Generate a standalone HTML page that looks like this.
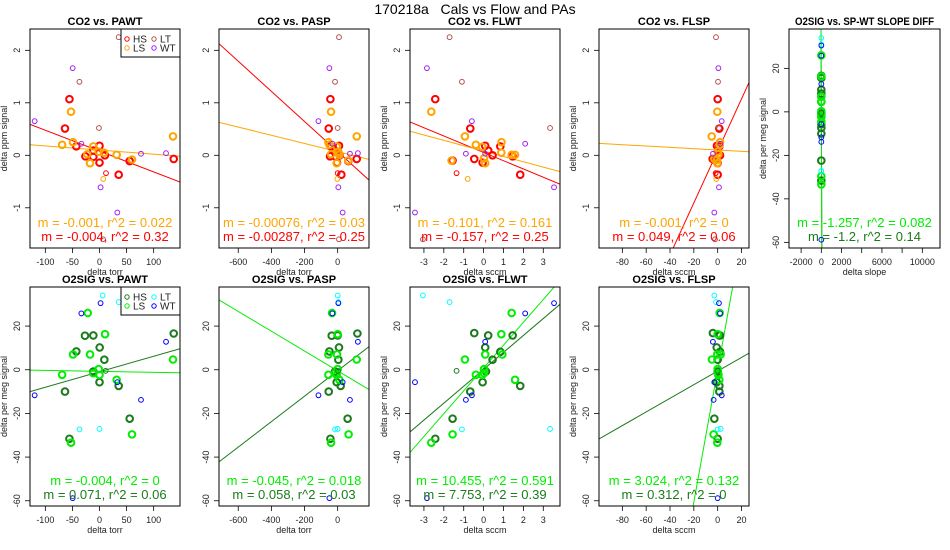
<!DOCTYPE html>
<html><head><meta charset="utf-8"><style>
html,body{margin:0;padding:0;background:#fff;overflow:hidden;width:950px;height:550px}
svg{display:block;font-family:"Liberation Sans",sans-serif}
</style></head><body>
<svg id="chart" width="950" height="550" viewBox="0 0 950 550" xmlns="http://www.w3.org/2000/svg">
<rect width="950" height="550" fill="#fff"/>
<text x="475" y="14" text-anchor="middle" font-size="14" xml:space="preserve" style="white-space:pre">170218a   Cals vs Flow and PAs</text>
</svg>
<script>
// ---- data (CO2 panels: y in delta ppm; O2 panels: y in delta per meg) ----
const p1_HS=[[-55.5,1.07],[-63.7,0.51],[-42.8,0.17],[0,0.18],[-11.4,0.09],[-26,-0.02],[-11.4,-0.03],[10,0],[0,-0.14],[55.7,-0.11],[35.4,-0.37],[137,-0.07]];
const p1_LS=[[-52.6,0.83],[-69,0.2],[-49,0.25],[-11.4,0.17],[-22.5,0.02],[-17.5,-0.15],[-1.5,0.07],[8.3,0.05],[31.7,0.01],[60,-0.08],[135.7,0.36]];
const p1_LT=[[35.4,2.25],[-37,1.4],[-1,0.52],[6.5,-1.6]];
const p1_thinHS=[[12,-0.34]];
const p1_thinLS=[[7,-0.45]];
const p1_WT=[[-49.5,1.66],[-119.7,0.65],[-33.5,0.22],[2,-0.61],[32.9,-1.09],[76.6,0.03],[122.8,0.04]];
const p1_fit=[[-0.00397,0.08],[-0.00079,0.1]];

const p2_HS=[[-44,1.07],[-54,0.51],[8,0.18],[-40,0.17],[-20,0.09],[-46,-0.02],[-10,-0.03],[12,0],[-4,-0.14],[64,-0.11],[22,-0.37],[115,-0.07]];
const p2_LS=[[-40,0.83],[-56,0.25],[-50,0.2],[-6,0.17],[-40,0.02],[-6,-0.15],[4,0.07],[0,0.05],[10,0.01],[64,-0.1],[115,0.36]];
const p2_LT=[[8,2.25],[-16,1.4],[0,0.52],[8,-1.6]];
const p2_thinHS=[[0,-0.34]];
const p2_thinLS=[[-2,-0.45]];
const p2_WT=[[-50,1.66],[-116,0.65],[-32,0.22],[4,-0.61],[30,-1.09],[74,0.03],[122,0.04]];
const p2_fit=[[-0.00287,0.07],[-0.00078,0.07]];

const p3_HS=[[-2.43,1.07],[-0.67,0.51],[0.84,0.17],[0.08,0.18],[0.23,0.09],[0.45,0],[-0.47,-0.07],[-0.05,-0.14],[-1.56,-0.1],[1.46,-0.02],[1.84,-0.37]];
const p3_LS=[[-2.63,0.83],[-0.94,0.36],[-0.39,0.2],[0.9,0.25],[0.89,0.05],[-0.07,0.16],[1.41,0.01],[1.58,0.01],[-1.61,-0.1],[0.02,-0.06],[0.08,-0.15]];
const p3_LT=[[-1.71,2.25],[-1.09,1.4],[3.34,0.52],[-3.05,-1.6]];
const p3_thinHS=[[-1.36,-0.34]];
const p3_thinLS=[[-0.8,-0.45]];
const p3_WT=[[-2.85,1.66],[-0.59,0.65],[2.09,0.22],[-0.89,0.03],[0.08,0.03],[3.54,-0.61],[-3.45,-1.09]];
const p3_fit=[[-0.157,0.054],[-0.102,0.08]];

const p4_HS=[[0,1.07],[1.4,0.51],[-0.6,0.18],[1.4,0.17],[2,0],[-4.2,-0.07],[-2.2,-0.09],[0,-0.37],[0,-0.15]];
const p4_LS=[[-0.3,0.83],[-5,0.36],[2,0.25],[1.7,0.2],[0,0.07],[0.6,0.02],[-0.8,-0.09],[-2.8,-0.07],[-0.3,-0.15]];
const p4_LT=[[-1.4,2.25],[0.3,1.4],[1.1,0.52],[-2.2,-1.6]];
const p4_thinHS=[[-1.7,-0.34]];
const p4_thinLS=[[-1.1,-0.45]];
const p4_WT=[[0.6,1.66],[3.4,0.65],[2.2,0.22],[-3.9,0.03],[1.1,-0.61],[-2.8,-1.09]];
const p4_fit=[[0.0495,0.083],[-0.00127,0.1]];

const p5_HS=[[0,15.6],[0,15.7],[0,10.2],[0,8.4],[0,4.6],[0,-0.8],[0,-5.7],[0,-7.4],[0,-10],[0,-22.4],[0,-31.6],[0,16.6]];
const p5_LS=[[0,26],[0,16.3],[0,7],[0,7],[0,-2.3],[0,0.3],[0,-2.4],[0,-4.6],[0,-29.6],[0,-33.4],[0,4.7],[0,-1.6]];
const p5_LT=[[0,34],[0,31],[0,-27.3],[0,-27.1]];
const p5_thinHS=[[0,-0.5]];
const p5_thinLS=[];
const p5_WT=[[0,25.8],[0,30.5],[0,12.8],[0,-11.7],[0,-5.7],[0,-13.8],[0,-58.8]];
const p5_fit=[[-1.2,0],[-1.257,0]];

const p6_HS=[[-26.8,15.6],[-11.4,15.7],[0.3,10.2],[-42.8,8.4],[8.9,4.6],[-11.4,-0.8],[0,-5.7],[35.4,-7.4],[-63.7,-10],[55.7,-22.4],[-55.5,-31.6],[137,16.6]];
const p6_LS=[[-21.7,26],[10.2,16.3],[-48.9,7],[-17.5,7],[-69,-2.3],[-1.5,0.3],[0,-2.4],[31.7,-4.6],[60,-29.6],[-52.6,-33.4],[135.7,4.7],[-11.4,-1.6]];
const p6_LT=[[5.8,34],[35.4,31],[-37,-27.3],[0,-27.1]];
const p6_thinHS=[[11.4,-0.5]];
const p6_thinLS=[];
const p6_WT=[[-33.5,25.8],[2,30.5],[122.8,12.8],[-119.7,-11.7],[33,-5.7],[76.6,-13.8],[-49.5,-58.8]];
const p6_fit=[[0.0708,-0.92],[-0.0043,-0.75]];

const p7_HS=[[-36,15.6],[0,15.7],[8,10.2],[-50,8.4],[4,4.6],[-16,-0.8],[-6,-5.7],[18,-7.4],[-54,-10],[60,-22.4],[-44,-31.6],[119,16.6]];
const p7_LS=[[-34,26],[0,16.3],[-56,7],[-4,7],[-56,-2.3],[0,0.3],[-6,-2.4],[10,-4.6],[66,-29.6],[-40,-33.4],[115,4.7],[-16,-1.6]];
const p7_LT=[[0,34],[4,31],[-16,-27.3],[0,-27.1]];
const p7_thinHS=[[2,-0.5]];
const p7_thinLS=[];
const p7_WT=[[-32,25.8],[4,30.5],[122,12.8],[-116,-11.7],[30,-5.7],[74,-13.8],[-50,-58.8]];
const p7_fit=[[0.0583,-0.44],[-0.0454,-0.5]];

const p8_HS=[[-0.47,16.8],[0.23,15.7],[0.08,10.2],[0.84,8.2],[0.45,4.6],[0.12,-0.8],[-0.05,-5.7],[1.84,-7.4],[-0.67,-10],[-1.56,-22.4],[-2.43,-31.6],[1.46,15.7]];
const p8_LS=[[1.41,26],[0.89,16.3],[-0.94,4.7],[0.08,7],[0.94,7],[-0.39,-2.3],[0.02,0.3],[-0.07,-2.4],[1.58,-4.6],[-1.56,-29.6],[-2.63,-33.4],[0.02,-1.6]];
const p8_LT=[[-3.05,34],[-1.71,31],[-1.09,-27.3],[3.34,-27.1]];
const p8_thinHS=[[-1.36,-0.5]];
const p8_thinLS=[];
const p8_WT=[[2.09,25.8],[3.54,30.5],[0.08,12.8],[-0.59,-11.7],[-3.45,-5.7],[-0.89,-13.8],[-2.85,-58.8]];
const p8_fit=[[7.753,0.2],[10.455,0.8]];

const p9_HS=[[-4,16.8],[1.4,15.7],[-0.8,10.2],[2,8.2],[0,4.6],[0,-0.8],[-0.8,-5.7],[1.4,-7.4],[1.4,-10],[-2.8,-22.4],[0,-31.6],[2,15.7]];
const p9_LS=[[1.7,26],[0,16.3],[-4.8,4.7],[-0.3,7],[2.5,7],[0.6,-2.3],[0,0.3],[0.6,-2.4],[1.4,-4.6],[-3.4,-29.6],[-0.3,-33.4],[0.3,-1.6]];
const p9_LT=[[-2.8,34],[-1.4,31],[0,-27.3],[2.5,-27.1]];
const p9_thinHS=[[0,-0.5]];
const p9_thinLS=[];
const p9_WT=[[2,25.8],[1.1,30.5],[-4,12.8],[3.4,-11.7],[-2.8,-5.7],[-3.4,-13.8],[0,-58.8]];
const p9_fit=[[0.312,-0.6],[3.024,-0.1]];

const coTicksY=[-1,0,1,2];
const o2TicksY=[-60,-40,-20,0,20];
const ticksPAWT=[-100,-50,0,50,100];
const ticksPASP=[-600,-400,-200,0];
const ticksFLWT=[-3,-2,-1,0,1,2,3];
const ticksFLSP=[-80,-60,-40,-20,0,20];
const ticksSLOPE=[-2000,0,2000,4000,6000,8000,10000];
const labelsSLOPE=["-2000","0","2000","","6000","","10000"];

const CO2C={HS:"#ff0000",LS:"#ffa500",LT:"#b5524f",WT:"#a020f0"};
const O2C={HS:"#1b7a1b",LS:"#00ee00",LT:"#00ffff",WT:"#0000ff"};

const svg=document.getElementById('chart');
const NS="http://www.w3.org/2000/svg";
function mk(tag,attrs,parent){const e=document.createElementNS(NS,tag);for(const k in attrs)e.setAttribute(k,attrs[k]);(parent||svg).appendChild(e);return e;}

function panel(o){
  const g=mk('g',{});
  
  
  const L=o.box[0],R=o.box[1],T=o.box[2],B=o.box[3];
  const sx=v=>L+(v-o.xlim[0])/(o.xlim[1]-o.xlim[0])*(R-L);
  const sy=v=>B-(v-o.ylim[0])/(o.ylim[1]-o.ylim[0])*(B-T);
  const cid='clip-'+o.name;
  const cp=mk('clipPath',{id:cid},g);mk('rect',{x:L,y:T,width:R-L,height:B-T},cp);
  const tattrs={x:(L+R)/2,y:T-4,'text-anchor':'middle','font-size':11,'font-weight':'bold'};
  if(o.titleLen){tattrs.textLength=o.titleLen;tattrs.lengthAdjust='spacingAndGlyphs';}
  const t=mk('text',tattrs,g);
  t.textContent=o.title;
  
  
  const xa=mk('g',{},g);
  
  
  const xt=o.xticks;
  mk('line',{x1:sx(xt[0]),x2:sx(xt[xt.length-1]),y1:B,y2:B,stroke:'#000','stroke-width':0.8},xa);
  xt.forEach((v,i)=>{
    mk('line',{x1:sx(v),x2:sx(v),y1:B,y2:B+5,stroke:'#000','stroke-width':0.8},xa);
    const lab=o.xlabels?o.xlabels[i]:String(v);
    if(lab){const tt=mk('text',{x:sx(v),y:B+17,'text-anchor':'middle','font-size':9,fill:'#222'},xa);tt.textContent=lab;
      
      }
  });
  const xl=mk('text',{x:(L+R)/2,y:B+27,'text-anchor':'middle','font-size':9,fill:'#222'},xa);xl.textContent=o.xlab;
  
  
  const ya=mk('g',{},g);
  
  
  const yt=o.yticks;
  mk('line',{x1:L,x2:L,y1:sy(yt[0]),y2:sy(yt[yt.length-1]),stroke:'#000','stroke-width':0.8},ya);
  yt.forEach(v=>{
    mk('line',{x1:L-5,x2:L,y1:sy(v),y2:sy(v),stroke:'#000','stroke-width':0.8},ya);
    const tt=mk('text',{x:0,y:0,'text-anchor':'middle','font-size':9,fill:'#222',transform:`translate(${L-10},${sy(v)}) rotate(-90)`},ya);tt.textContent=String(v);
    
    
  });
  const yl=mk('text',{x:0,y:0,'text-anchor':'middle','font-size':9,fill:'#222',transform:`translate(${L-23},${(T+B)/2}) rotate(-90)`},ya);yl.textContent=o.ylab;
  
  
  const C=o.colors;
  [[o.fit[0],C.HS],[o.fit[1],C.LS]].forEach(([f,c])=>{
    const ln=mk('line',{x1:sx(o.xlim[0]),y1:sy(f[0]*o.xlim[0]+f[1]),x2:sx(o.xlim[1]),y2:sy(f[0]*o.xlim[1]+f[1]),stroke:c,'stroke-width':1,'clip-path':`url(#${cid})`},g);
    
    
  });
  const groups=[[o.d.HS,C.HS,2,3.3],[o.d.LS,C.LS,2,3.3],[o.d.thinHS,C.HS,1,2.4],[o.d.thinLS,C.LS,1,2.4],[o.d.LT,C.LT,1,2.4],[o.d.WT,C.WT,1,2.4]];
  groups.forEach(([arr,c,w,r])=>arr.forEach(p=>{
    const ci=mk('circle',{cx:sx(p[0]),cy:sy(p[1]),r:r,fill:'none',stroke:c,'stroke-width':w,'clip-path':`url(#${cid})`},g);
    
    
  }));
  mk('rect',{x:L,y:T,width:R-L,height:B-T,fill:'none',stroke:'#000','stroke-width':1},g);
  const a1=mk('text',{x:(L+R)/2,y:B-21,'text-anchor':'middle','font-size':13,fill:C.LS},g);a1.textContent=o.ann[0];
  
  
  const a2=mk('text',{x:(L+R)/2,y:B-7,'text-anchor':'middle','font-size':13,fill:C.HS},g);a2.textContent=o.ann[1];
  
  
  if(o.legend){
    const lg=mk('g',{},g);
    
    
    mk('rect',{x:R-59,y:T,width:59,height:28,fill:'#fff',stroke:'#000','stroke-width':1},lg);
    [['HS',0,0],['LT',1,0],['LS',0,1],['WT',1,1]].forEach(([k,cx,ry])=>{
      const x=R-53+cx*27,y=T+10+ry*9;
      mk('circle',{cx:x,cy:y,r:2.2,fill:'none',stroke:C[k],'stroke-width':1},lg);
      const tt=mk('text',{x:x+6,y:y+3.5,'font-size':10,fill:'#222'},lg);tt.textContent=k;
      
      
    });
  }
}
const TOP=[29,248],BOT=[287,506];
const dset=(HS,LS,LT,WT,thinHS,thinLS)=>({HS,LS,LT,WT,thinHS,thinLS});
panel({name:'panel-co2-pawt',title:'CO2 vs. PAWT',box:[30,180,TOP[0],TOP[1]],xlim:[-128.3,148.6],ylim:[-1.766,2.406],xticks:ticksPAWT,yticks:coTicksY,xlab:'delta torr',ylab:'delta ppm signal',colors:CO2C,d:dset(p1_HS,p1_LS,p1_LT,p1_WT,p1_thinHS,p1_thinLS),fit:p1_fit,ann:['m = -0.001, r^2 = 0.022','m = -0.004, r^2 = 0.32'],legend:true});
panel({name:'panel-co2-pasp',title:'CO2 vs. PASP',box:[219,369,TOP[0],TOP[1]],xlim:[-716,189],ylim:[-1.766,2.406],xticks:ticksPASP,yticks:coTicksY,xlab:'delta torr',ylab:'',colors:CO2C,d:dset(p2_HS,p2_LS,p2_LT,p2_WT,p2_thinHS,p2_thinLS),fit:p2_fit,ann:['m = -0.00076, r^2 = 0.03','m = -0.00287, r^2 = 0.25']});
panel({name:'panel-co2-flwt',title:'CO2 vs. FLWT',box:[410,560,TOP[0],TOP[1]],xlim:[-3.70,3.84],ylim:[-1.766,2.406],xticks:ticksFLWT,yticks:coTicksY,xlab:'delta sccm',ylab:'delta ppm signal',colors:CO2C,d:dset(p3_HS,p3_LS,p3_LT,p3_WT,p3_thinHS,p3_thinLS),fit:p3_fit,ann:['m = -0.101, r^2 = 0.161','m = -0.157, r^2 = 0.25']});
panel({name:'panel-co2-flsp',title:'CO2 vs. FLSP',box:[599,749,TOP[0],TOP[1]],xlim:[-99.6,26.3],ylim:[-1.766,2.406],xticks:ticksFLSP,yticks:coTicksY,xlab:'delta sccm',ylab:'delta ppm signal',colors:CO2C,d:dset(p4_HS,p4_LS,p4_LT,p4_WT,p4_thinHS,p4_thinLS),fit:p4_fit,ann:['m = -0.001, r^2 = 0','m = 0.049, r^2 = 0.06']});
panel({name:'panel-o2-slope-diff',title:'O2SIG vs. SP-WT SLOPE DIFF',titleLen:139,box:[789,940,TOP[0],TOP[1]],xlim:[-3200,11750],ylim:[-62.6,38.1],xticks:ticksSLOPE,xlabels:labelsSLOPE,yticks:o2TicksY,xlab:'delta slope',ylab:'delta per meg signal',colors:O2C,d:dset(p5_HS,p5_LS,p5_LT,p5_WT,p5_thinHS,p5_thinLS),fit:p5_fit,ann:['m = -1.257, r^2 = 0.082','m = -1.2, r^2 = 0.14']});
panel({name:'panel-o2-pawt',title:'O2SIG vs. PAWT',box:[30,180,BOT[0],BOT[1]],xlim:[-128.3,148.6],ylim:[-62.4,37.9],xticks:ticksPAWT,yticks:o2TicksY,xlab:'delta torr',ylab:'delta per meg signal',colors:O2C,d:dset(p6_HS,p6_LS,p6_LT,p6_WT,p6_thinHS,p6_thinLS),fit:p6_fit,ann:['m = -0.004, r^2 = 0','m = 0.071, r^2 = 0.06'],legend:true});
panel({name:'panel-o2-pasp',title:'O2SIG vs. PASP',box:[219,369,BOT[0],BOT[1]],xlim:[-716,189],ylim:[-62.4,37.9],xticks:ticksPASP,yticks:o2TicksY,xlab:'delta torr',ylab:'',colors:O2C,d:dset(p7_HS,p7_LS,p7_LT,p7_WT,p7_thinHS,p7_thinLS),fit:p7_fit,ann:['m = -0.045, r^2 = 0.018','m = 0.058, r^2 = 0.03']});
panel({name:'panel-o2-flwt',title:'O2SIG vs. FLWT',box:[410,560,BOT[0],BOT[1]],xlim:[-3.70,3.84],ylim:[-62.4,37.9],xticks:ticksFLWT,yticks:o2TicksY,xlab:'delta sccm',ylab:'delta per meg signal',colors:O2C,d:dset(p8_HS,p8_LS,p8_LT,p8_WT,p8_thinHS,p8_thinLS),fit:p8_fit,ann:['m = 10.455, r^2 = 0.591','m = 7.753, r^2 = 0.39']});
panel({name:'panel-o2-flsp',title:'O2SIG vs. FLSP',box:[599,749,BOT[0],BOT[1]],xlim:[-99.6,26.3],ylim:[-62.4,37.9],xticks:ticksFLSP,yticks:o2TicksY,xlab:'delta sccm',ylab:'delta per meg signal',colors:O2C,d:dset(p9_HS,p9_LS,p9_LT,p9_WT,p9_thinHS,p9_thinLS),fit:p9_fit,ann:['m = 3.024, r^2 = 0.132','m = 0.312, r^2 = 0']});
</script>
</body></html>
